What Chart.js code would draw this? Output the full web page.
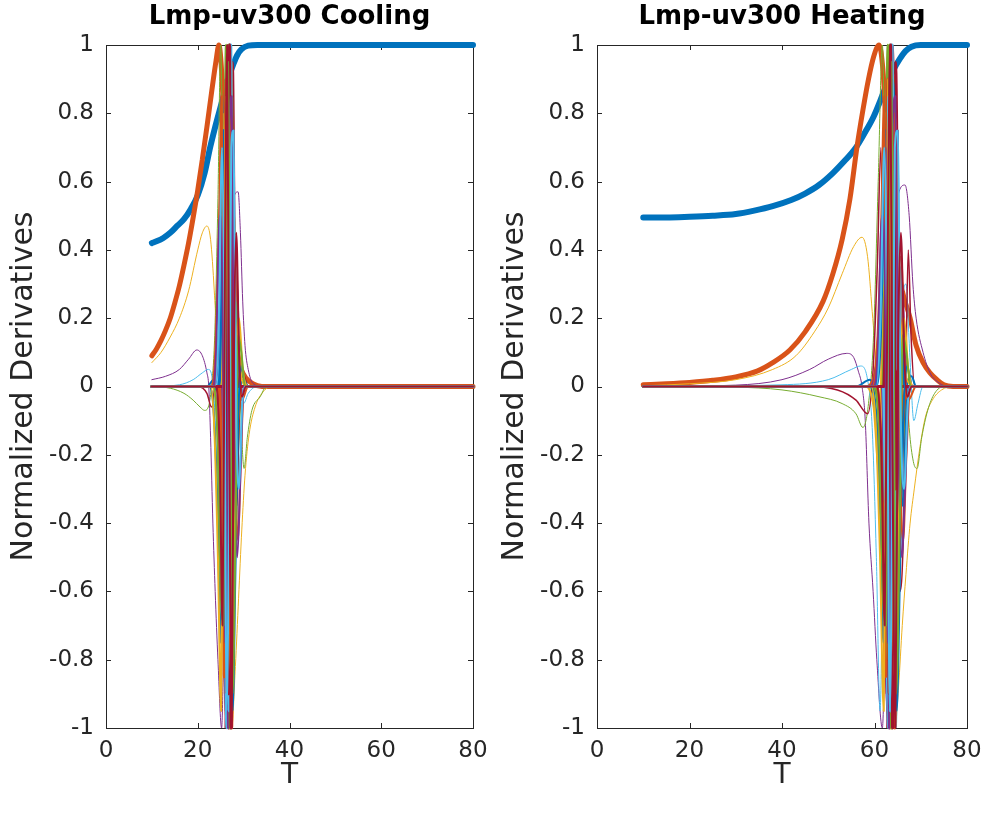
<!DOCTYPE html>
<html>
<head>
<meta charset="utf-8">
<script src="https://cdn.jsdelivr.net/npm/chart.js@4.4.1/dist/chart.umd.min.js"></script>
<style>
  body { margin: 0; background: #fff; }
  #wrap { position: relative; width: 982px; height: 814px; }
  canvas { position: absolute; top: 0; }
</style>
</head>
<body>
<div id="wrap">
  <canvas id="cooling" width="491" height="814" style="left:0"></canvas>
  <canvas id="heating" width="491" height="814" style="left:491px"></canvas>
</div>
<script>
// axis ticks
const xTicks = [0, 20, 40, 60, 80];
const yTicks = [-1, -0.8, -0.6, -0.4, -0.2, 0, 0.2, 0.4, 0.6, 0.8, 1];

// Cooling: [T, value] pairs, order 0 (normalized) .. 27
const coolD0 = [[10,0.42],[11,0.425],[12.5,0.435],[14,0.45],[15.5,0.47],[17,0.49],[18.5,0.52],[20,0.56],[21.5,0.625],[22.7,0.7],[23.8,0.76],[25,0.82],[26,0.87],[27,0.915],[27.8,0.945],[28.6,0.97],[29.5,0.987],[31,0.998],[33,1],[80,1]];
const coolD1 = [[10,0.09],[11,0.11],[12,0.135],[13,0.165],[14,0.2],[15,0.245],[16,0.295],[17,0.355],[18,0.42],[19,0.495],[20,0.575],[21,0.665],[22,0.76],[23,0.86],[24,0.955],[24.6,1],[25.3,0.9],[26,0.65],[26.8,0.4],[27.6,0.22],[28.5,0.11],[29.5,0.05],[30.5,0.025],[32,0.008],[34,0],[80,0]];
const coolD2 = [[10,0.07],[12,0.1],[14,0.145],[16,0.2],[18,0.28],[20,0.4],[21,0.45],[22,0.47],[22.8,0.43],[23.6,0.28],[24.6,0],[25.4,-0.42],[26.3,-0.85],[27.4,-1],[28.2,-0.82],[28.9,-0.62],[29.6,-0.42],[30.3,-0.26],[31.2,-0.14],[32.5,-0.06],[34,-0.02],[36,0],[80,0]];
const coolD3 = [[10,0.02],[13,0.03],[16,0.05],[18,0.08],[19.8,0.107],[21,0.09],[22,0.04],[22.4,0],[22.8,-0.15],[23.3,-0.4],[23.8,-0.6],[24.4,-0.8],[25.2,-1],[25.8,-0.6],[26.4,0.05],[27.2,0.45],[28,0.56],[28.8,0.57],[29.3,0.45],[29.8,0.25],[30.3,0.12],[31,0.05],[32,0.01],[34,0],[80,0]];
const coolD4 = [[10,0],[14,-0.005],[17,-0.02],[19,-0.04],[20.5,-0.06],[21.5,-0.07],[22.3,-0.06],[23,0],[23.7,0.15],[24.4,0.55],[25,1],[25.6,0.4],[26.2,-0.6],[26.8,-1],[27.4,-0.6],[28,0],[28.6,0.2],[29.1,0.05],[29.6,-0.15],[30.1,-0.24],[30.8,-0.15],[31.8,-0.07],[33.6,-0.03],[35,0],[80,0]];
const coolD5 = [[10,0],[16,0.005],[19,0.02],[21,0.04],[22.3,0.05],[23.2,0.02],[23.8,-0.1],[24.4,-0.45],[25,-0.9],[25.5,-0.3],[26,0.8],[26.5,0.6],[27,-0.7],[27.5,-1],[28,-0.3],[28.6,0.1],[29.3,0.05],[30,-0.05],[31,-0.02],[33,0],[80,0]];
const coolD6 = [[10,0],[20,0],[22,-0.02],[23,-0.06],[23.8,0.05],[24.4,0.35],[25,0.6],[25.5,-0.2],[26,-1],[26.5,0.3],[27,1],[27.5,-0.2],[28,0.38],[28.5,0.3],[29,-0.05],[29.8,0.04],[31,0],[80,0]];
const coolD7 = [[10,0],[22,0],[23.5,0.02],[24.3,-0.12],[25,-0.4],[25.5,0.3],[26,0.9],[26.4,-0.4],[26.8,-1],[27.2,0.5],[27.6,0.7],[28,-0.2],[28.5,-0.3],[29.2,0],[30,0.02],[31,0],[80,0]];
const coolD8 = [[10,0],[23,0],[24,0.04],[24.8,0.2],[25.4,-0.3],[25.9,-0.9],[26.3,0.6],[26.7,1],[27.1,-0.6],[27.5,-0.8],[27.9,0.3],[28.4,0.38],[29,0.05],[29.6,-0.04],[31,0],[80,0]];
const coolD9 = [[10,0],[23,0],[24,-0.05],[24.8,-0.25],[25.4,0.4],[25.8,0.8],[26.2,-0.7],[26.6,-1],[27,0.8],[27.4,0.6],[27.8,-0.5],[28.3,-0.3],[28.9,0.1],[29.6,0.02],[31,0],[80,0]];
const coolD10 = [[10,0],[23.5,0],[24.5,0.08],[25.2,0.3],[25.7,-0.6],[26.1,-0.95],[26.5,0.7],[26.9,1],[27.3,-0.4],[27.7,-0.9],[28.1,0.1],[28.6,0.3],[29.2,0],[30,0],[80,0]];
const coolD11 = [[10,0],[24,0],[24.8,-0.1],[25.4,-0.5],[25.8,0.5],[26.2,1],[26.6,-0.9],[27,-0.7],[27.4,0.9],[27.8,0.4],[28.2,-0.4],[28.7,-0.2],[29.3,0],[80,0]];
const coolD12 = [[10,0],[24,0],[24.9,0.12],[25.5,0.55],[25.9,-0.5],[26.3,-1],[26.7,0.6],[27.1,0.9],[27.5,-0.8],[27.9,-0.5],[28.3,0.35],[28.8,0.1],[29.4,0],[80,0]];
const coolD13 = [[10,0],[24.3,0],[25,-0.15],[25.6,-0.65],[26,0.7],[26.4,0.9],[26.8,-1],[27.2,-0.6],[27.6,0.95],[28,0.4],[28.4,-0.35],[28.9,-0.1],[29.5,0],[80,0]];
const coolD14 = [[10,0],[24.5,0],[25.2,0.2],[25.7,0.75],[26.1,-0.8],[26.5,-0.7],[26.9,0.9],[27.3,0.8],[27.7,-0.7],[28.1,-0.3],[28.6,0.15],[29.2,0],[80,0]];
const coolD15 = [[10,0],[24.6,0],[25.3,-0.25],[25.8,-0.85],[26.2,0.9],[26.6,0.6],[27,-0.85],[27.4,-1],[27.8,0.5],[28.2,0.3],[28.7,-0.1],[29.3,0],[80,0]];
const coolD16 = [[10,0],[25.3,0],[25.9,0.3],[26.3,-0.6],[26.6,0.9],[26.9,-1],[27.2,0.95],[27.5,-0.8],[27.8,0.5],[28.2,-0.2],[28.7,0],[80,0]];
const coolD17 = [[10,0],[25.4,0],[26,-0.35],[26.4,0.7],[26.7,-1],[27,1],[27.3,-0.9],[27.6,0.7],[27.9,-0.4],[28.3,0.12],[28.8,0],[80,0]];
const coolD18 = [[10,0],[25.5,0],[26.1,0.4],[26.5,-0.8],[26.8,1],[27.1,-1],[27.4,0.85],[27.7,-0.6],[28.1,0.25],[28.6,0],[80,0]];
const coolD19 = [[10,0],[25.6,0],[26.2,-0.45],[26.6,0.85],[26.9,-0.95],[27.2,1],[27.5,-0.75],[27.8,0.45],[28.2,-0.1],[28.7,0],[80,0]];
const coolD20 = [[10,0],[25.7,0],[26.3,0.5],[26.65,-0.9],[26.95,1],[27.25,-1],[27.55,0.7],[27.9,-0.3],[28.3,0.05],[28.8,0],[80,0]];
const coolD21 = [[10,0],[22.5,0],[23.5,-0.08],[24.3,-0.35],[25,-0.75],[25.6,-0.2],[26.1,0.65],[26.6,0.9],[27.1,-0.3],[27.6,-0.95],[28.2,-0.55],[28.8,-0.1],[29.5,0.06],[30.5,0],[80,0]];
const coolD22 = [[10,0],[23,0],[23.8,0.1],[24.6,0.45],[25.2,0.85],[25.7,-0.1],[26.2,-0.9],[26.7,-0.3],[27.2,0.8],[27.7,0.6],[28.2,-0.2],[28.8,-0.45],[29.4,-0.2],[30.2,0],[80,0]];
const coolD23 = [[10,0],[22.8,0],[23.6,-0.12],[24.4,-0.5],[25.1,-0.95],[25.7,0.2],[26.2,0.85],[26.7,0.1],[27.2,-0.85],[27.8,-0.7],[28.4,0.05],[29,0.2],[29.8,0.05],[31,0],[80,0]];
const coolD24 = [[10,0],[23.2,0],[24,0.1],[24.8,0.5],[25.4,0.3],[25.9,-0.75],[26.4,-0.5],[26.9,0.75],[27.4,0.85],[28,-0.15],[28.6,-0.5],[29.2,-0.3],[30,0],[80,0]];
const coolD25 = [[10,0],[23.5,0],[24.3,-0.15],[25,-0.6],[25.6,-0.7],[26.1,0.4],[26.6,0.95],[27.1,0.2],[27.6,-0.9],[28.2,-0.45],[28.8,0.15],[29.5,0.1],[30.3,0],[80,0]];
const coolD26 = [[10,0],[23.8,0],[24.6,0.2],[25.3,0.7],[25.8,0.2],[26.3,-0.95],[26.8,-0.4],[27.3,0.7],[27.8,0.75],[28.4,-0.1],[29,-0.3],[29.7,-0.05],[30.5,0],[80,0]];
const coolD27 = [[10,0],[24,0],[24.8,-0.2],[25.4,-0.7],[25.9,0.3],[26.4,1],[26.9,-0.2],[27.4,-1],[27.9,0.1],[28.4,0.45],[29,0.1],[29.6,-0.03],[30.5,0],[80,0]];

// Heating: [T, value] pairs, order 0 (normalized) .. 27
const heatD0 = [[10,0.495],[15,0.495],[20,0.497],[25,0.5],[30,0.505],[34,0.515],[38,0.528],[42,0.546],[45,0.565],[48,0.59],[51,0.625],[53.5,0.66],[56,0.7],[58,0.745],[59.8,0.79],[61.2,0.835],[62.5,0.88],[64,0.925],[65.5,0.96],[66.7,0.982],[68,0.995],[70,1],[80,1]];
const heatD1 = [[10,0.005],[15,0.008],[20,0.012],[25,0.018],[30,0.028],[34.6,0.045],[38,0.07],[41.7,0.107],[45,0.16],[48.9,0.25],[51,0.33],[53,0.43],[54.7,0.55],[56.2,0.7],[57.5,0.81],[58.7,0.9],[59.8,0.965],[61,1],[61.8,0.93],[62.6,0.75],[63.5,0.55],[64.5,0.4],[66,0.28],[67.7,0.2],[69,0.12],[70.5,0.07],[72,0.04],[73.5,0.02],[75,0.005],[77,0],[80,0]];
const heatD2 = [[10,0.002],[20,0.008],[30,0.02],[38,0.05],[43,0.09],[47,0.16],[50,0.23],[53,0.33],[55.5,0.41],[57.3,0.437],[58.5,0.38],[59.5,0.22],[60.5,0.04],[61.2,-0.15],[62.3,-0.5],[63.4,-0.85],[64.4,-1],[65.2,-0.88],[66,-0.7],[66.8,-0.55],[67.7,-0.4],[68.6,-0.3],[69.8,-0.18],[71,-0.09],[72.5,-0.04],[74.5,-0.01],[77,0],[80,0]];
const heatD3 = [[10,0],[30,0.004],[40,0.02],[46,0.05],[50,0.08],[54,0.097],[55.5,0.085],[56.5,0.045],[57.3,0],[58,-0.1],[58.8,-0.4],[59.7,-0.6],[60.5,-0.8],[61.7,-1],[62.5,-0.5],[63.3,0.2],[64.2,0.45],[65.3,0.57],[66.6,0.59],[67.5,0.5],[68.3,0.3],[69,0.2],[70.5,0.1],[72,0.04],[74,0.01],[76,0],[80,0]];
const heatD4 = [[10,0],[30,-0.002],[40,-0.01],[48,-0.03],[53,-0.05],[56,-0.08],[57.5,-0.12],[58.7,-0.05],[59.8,0.15],[60.8,0.6],[61.7,1],[62.5,0.3],[63.3,-0.7],[64,-1],[64.7,-0.5],[65.5,0.1],[66.2,0.2],[66.8,0.05],[67.5,-0.12],[68.4,-0.22],[69.2,-0.24],[70.2,-0.15],[71.5,-0.07],[73,-0.02],[75,0],[80,0]];
const heatD5 = [[10,0],[40,0.005],[50,0.02],[55,0.05],[57,0.06],[58.5,0.02],[59.5,-0.12],[60.4,-0.5],[61.2,-0.95],[61.9,-0.3],[62.6,0.8],[63.3,0.7],[64,-0.6],[64.7,-1],[65.4,-0.3],[66.1,0.25],[66.8,0.3],[67.6,0.1],[68.5,-0.1],[69.4,-0.05],[70.5,0],[80,0]];
const heatD6 = [[10,0],[45,0],[52,-0.01],[56,-0.04],[58.5,-0.08],[59.7,0.05],[60.6,0.35],[61.4,0.7],[62.1,-0.2],[62.7,-1],[63.4,0.3],[64.1,1],[64.8,0.2],[65.5,-0.6],[66.2,-0.45],[66.8,0.05],[67.3,0.4],[67.9,0.15],[68.7,0],[80,0]];
const heatD7 = [[10,0],[56,0],[59,0.02],[60.5,-0.1],[61.5,-0.4],[62.2,0.3],[62.8,0.9],[63.3,-0.4],[63.8,-1],[64.4,0.5],[65,0.75],[65.6,-0.2],[66.2,-0.35],[67,0],[68,0.03],[69,0],[80,0]];
const heatD8 = [[10,0],[58,0],[60,0.04],[61.3,0.2],[62,-0.3],[62.6,-0.9],[63.1,0.6],[63.6,1],[64.1,-0.6],[64.6,-0.8],[65.1,0.3],[65.8,0.38],[66.5,0.05],[67.3,-0.04],[69,0],[80,0]];
const heatD9 = [[10,0],[58,0],[59.8,-0.06],[61,-0.25],[61.8,0.4],[62.3,0.8],[62.8,-0.7],[63.3,-1],[63.8,0.8],[64.3,0.6],[64.8,-0.5],[65.4,-0.3],[66.2,0.1],[67,0.02],[69,0],[80,0]];
const heatD10 = [[10,0],[59,0],[60.5,0.08],[61.5,0.3],[62.2,-0.6],[62.8,-0.95],[63.3,0.7],[63.8,1],[64.3,-0.4],[64.8,-0.9],[65.3,0.1],[66,0.3],[66.8,0],[80,0]];
const heatD11 = [[10,0],[59.5,0],[61,-0.1],[61.9,-0.5],[62.4,0.5],[62.9,1],[63.4,-0.9],[63.9,-0.7],[64.4,0.9],[64.9,0.4],[65.4,-0.4],[66,-0.2],[66.8,0],[80,0]];
const heatD12 = [[10,0],[59.5,0],[61.1,0.12],[62,0.55],[62.5,-0.5],[63,-1],[63.5,0.6],[64,0.9],[64.5,-0.8],[65,-0.5],[65.5,0.35],[66.1,0.1],[66.9,0],[80,0]];
const heatD13 = [[10,0],[60,0],[61.2,-0.15],[62.1,-0.65],[62.6,0.7],[63.1,0.9],[63.6,-1],[64.1,-0.6],[64.6,0.95],[65.1,0.4],[65.6,-0.35],[66.2,-0.1],[67,0],[80,0]];
const heatD14 = [[10,0],[60.3,0],[61.4,0.2],[62.2,0.75],[62.7,-0.8],[63.2,-0.7],[63.7,0.9],[64.2,0.8],[64.7,-0.7],[65.2,-0.3],[65.8,0.15],[66.5,0],[80,0]];
const heatD15 = [[10,0],[60.5,0],[61.6,-0.25],[62.4,-0.85],[62.9,0.9],[63.4,0.6],[63.9,-0.85],[64.4,-1],[64.9,0.5],[65.4,0.3],[66,-0.1],[66.7,0],[80,0]];
const heatD16 = [[10,0],[61.6,0],[62.3,0.3],[62.7,-0.6],[63.1,0.9],[63.4,-1],[63.8,0.95],[64.1,-0.8],[64.5,0.5],[64.9,-0.2],[65.5,0],[80,0]];
const heatD17 = [[10,0],[61.7,0],[62.4,-0.35],[62.9,0.7],[63.2,-1],[63.6,1],[63.9,-0.9],[64.3,0.7],[64.6,-0.4],[65.1,0.12],[65.7,0],[80,0]];
const heatD18 = [[10,0],[61.8,0],[62.5,0.4],[63,-0.8],[63.3,1],[63.7,-1],[64,0.85],[64.4,-0.6],[64.8,0.25],[65.4,0],[80,0]];
const heatD19 = [[10,0],[61.9,0],[62.6,-0.45],[63.1,0.85],[63.5,-0.95],[63.8,1],[64.2,-0.75],[64.5,0.45],[65,-0.1],[65.6,0],[80,0]];
const heatD20 = [[10,0],[62,0],[62.7,0.5],[63.2,-0.9],[63.5,1],[63.9,-1],[64.2,0.7],[64.6,-0.3],[65.1,0.05],[65.7,0],[80,0]];
const heatD21 = [[10,0],[59,0],[60.2,-0.08],[61.1,-0.35],[61.9,-0.75],[62.5,-0.2],[63.1,0.65],[63.6,0.9],[64.2,-0.3],[64.8,-0.95],[65.5,-0.55],[66.2,-0.1],[67,0.06],[68.2,0],[80,0]];
const heatD22 = [[10,0],[59.5,0],[60.5,0.1],[61.4,0.45],[62.1,0.85],[62.6,-0.1],[63.2,-0.9],[63.7,-0.3],[64.3,0.8],[64.9,0.6],[65.5,-0.2],[66.2,-0.45],[66.9,-0.2],[67.8,0],[80,0]];
const heatD23 = [[10,0],[59.3,0],[60.3,-0.12],[61.2,-0.5],[62,-0.95],[62.6,0.2],[63.2,0.85],[63.7,0.1],[64.3,-0.85],[65,-0.7],[65.7,0.05],[66.4,0.2],[67.3,0.05],[68.5,0],[80,0]];
const heatD24 = [[10,0],[59.8,0],[60.7,0.1],[61.6,0.5],[62.3,0.3],[62.8,-0.75],[63.4,-0.5],[63.9,0.75],[64.5,0.85],[65.2,-0.15],[65.9,-0.5],[66.6,-0.3],[67.5,0],[80,0]];
const heatD25 = [[10,0],[60,0],[61,-0.15],[61.8,-0.6],[62.5,-0.7],[63,0.4],[63.6,0.95],[64.1,0.2],[64.7,-0.9],[65.4,-0.45],[66.1,0.15],[66.9,0.1],[67.8,0],[80,0]];
const heatD26 = [[10,0],[60.4,0],[61.3,0.2],[62.1,0.7],[62.7,0.2],[63.3,-0.95],[63.8,-0.4],[64.4,0.7],[65,0.75],[65.7,-0.1],[66.4,-0.3],[67.2,-0.05],[68,0],[80,0]];
const heatD27 = [[10,0],[60.6,0],[61.5,-0.2],[62.2,-0.7],[62.8,0.3],[63.4,1],[63.9,-0.2],[64.5,-1],[65.1,0.1],[65.7,0.45],[66.4,0.1],[67.1,-0.03],[68,0],[80,0]];

const coolCurves = [coolD0, coolD1, coolD2, coolD3, coolD4, coolD5, coolD6, coolD7, coolD8, coolD9,
  coolD10, coolD11, coolD12, coolD13, coolD14, coolD15, coolD16, coolD17, coolD18, coolD19,
  coolD20, coolD21, coolD22, coolD23, coolD24, coolD25, coolD26, coolD27];
const heatCurves = [heatD0, heatD1, heatD2, heatD3, heatD4, heatD5, heatD6, heatD7, heatD8, heatD9,
  heatD10, heatD11, heatD12, heatD13, heatD14, heatD15, heatD16, heatD17, heatD18, heatD19,
  heatD20, heatD21, heatD22, heatD23, heatD24, heatD25, heatD26, heatD27];

// styles
const lineColors = ['#0072BD', '#D95319', '#EDB120', '#7E2F8E', '#77AC30', '#4DBEEE', '#A2142F'];
const lineWidths = [6, 5, 1, 1, 1, 1, 1.5, 2, 2, 2, 2, 2.5, 2.5, 2.5, 3, 3, 3, 3, 3, 3, 3, 2, 2, 2, 2, 2, 2, 2];
const axisColor = '#262626';
const FONT = 'DejaVu Sans';

// MATLAB style box with inward ticks on all four sides
const boxPlugin = {
  id: 'matlabBox',
  beforeDatasetsDraw(chart) {
    const { ctx, chartArea: a, scales: { x, y } } = chart;
    ctx.save();
    ctx.strokeStyle = axisColor;
    ctx.lineWidth = 1;
    ctx.strokeRect(Math.round(a.left) + 0.5, Math.round(a.top) + 0.5,
      Math.round(a.right - a.left), Math.round(a.bottom - a.top));
    ctx.beginPath();
    x.ticks.forEach(t => {
      const px = Math.round(x.getPixelForValue(t.value)) + 0.5;
      ctx.moveTo(px, a.bottom); ctx.lineTo(px, a.bottom - 5);
      ctx.moveTo(px, a.top); ctx.lineTo(px, a.top + 5);
    });
    y.ticks.forEach(t => {
      const py = Math.round(y.getPixelForValue(t.value)) + 0.5;
      ctx.moveTo(a.left, py); ctx.lineTo(a.left + 5, py);
      ctx.moveTo(a.right, py); ctx.lineTo(a.right - 5, py);
    });
    ctx.stroke();
    ctx.restore();
  }
};

function makeChart(id, titleText, curves, padRight) {
  const datasets = curves.map((pts, i) => ({
    data: pts,
    borderColor: lineColors[i % lineColors.length],
    borderWidth: lineWidths[i],
    pointRadius: 0,
    fill: false,
    cubicInterpolationMode: 'monotone',
    borderJoinStyle: 'round',
    borderCapStyle: 'round',
    clip: 8,
    order: -i   // later curves on top, as in MATLAB
  }));

  new Chart(document.getElementById(id), {
    type: 'line',
    data: { datasets },
    plugins: [boxPlugin],
    options: {
      responsive: false,
      animation: false,
      devicePixelRatio: 1,
      layout: { padding: { left: 0, right: padRight, top: 0, bottom: 0 } },
      plugins: {
        legend: { display: false },
        tooltip: { enabled: false },
        title: {
          display: true,
          fullSize: false,
          text: titleText,
          color: '#000',
          font: { family: FONT, size: 26, weight: 'bold' },
          padding: { top: 2, bottom: 11.8 }
        }
      },
      scales: {
        x: {
          type: 'linear',
          min: 0, max: 80,
          afterBuildTicks: s => { s.ticks = xTicks.map(v => ({ value: v })); },
          afterFit: s => { s.height = 86; s.paddingLeft = 0; s.paddingRight = 0; },
          grid: { display: false, drawTicks: false },
          border: { display: false },
          ticks: {
            autoSkip: false, maxRotation: 0, padding: 9,
            color: axisColor, font: { family: FONT, size: 23 },
            callback: v => String(v)
          },
          title: {
            display: true, text: 'T', color: axisColor,
            font: { family: FONT, size: 28 },
            padding: { top: 0, bottom: 21 }
          }
        },
        y: {
          type: 'linear',
          min: -1, max: 1,
          afterBuildTicks: s => { s.ticks = yTicks.map(v => ({ value: v })); },
          afterFit: s => { s.width = 106; s.paddingTop = 0; s.paddingBottom = 0; },
          grid: { display: false, drawTicks: false },
          border: { display: false },
          ticks: {
            autoSkip: false, padding: 12,
            color: axisColor, font: { family: FONT, size: 23 },
            callback: v => String(Math.round(v * 10) / 10)
          },
          title: {
            display: true, text: 'Normalized Derivatives', color: axisColor,
            font: { family: FONT, size: 30 },
            padding: { top: 6, bottom: 0 }
          }
        }
      }
    }
  });
}

makeChart('cooling', 'Lmp-uv300 Cooling', coolCurves, 18);
makeChart('heating', 'Lmp-uv300 Heating', heatCurves, 15);
</script>
</body>
</html>
